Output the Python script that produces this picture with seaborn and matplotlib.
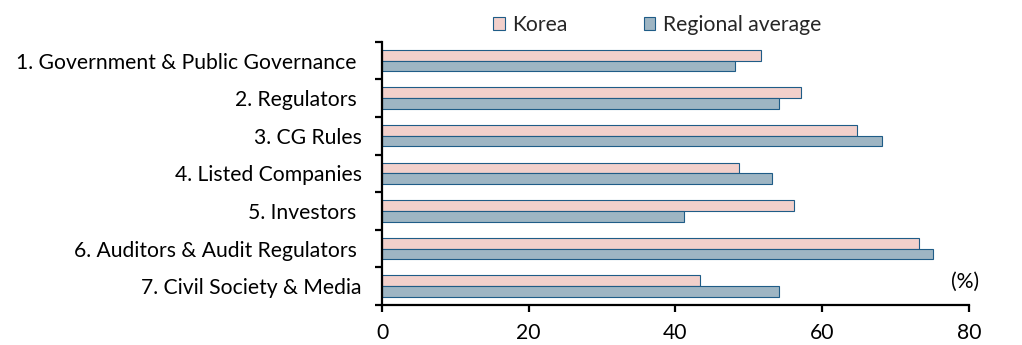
import numpy as np
import pandas as pd
import matplotlib
matplotlib.use("Agg")
import matplotlib.pyplot as plt
import seaborn as sns

categories = [
    "1. Government & Public Governance ",
    "2. Regulators ",
    "3. CG Rules",
    "4. Listed Companies",
    "5. Investors ",
    "6. Auditors & Audit Regulators ",
    "7. Civil Society & Media",
]
series_names = ["Korea", "Regional average"]
korea = [51.6, 57.1, 64.7, 48.6, 56.1, 73.2, 43.4]
regional = [48.1, 54.1, 68.1, 53.1, 41.1, 75.1, 54.1]
x_ticks = [0, 20, 40, 60, 80]

sns.set_theme(style="white")
plt.rcParams["font.family"] = ["Lato", "DejaVu Sans"]

df = pd.DataFrame({
    "category": categories * 2,
    "value": korea + regional,
    "series": [series_names[0]] * len(categories) + [series_names[1]] * len(categories),
})

palette = {"Korea": "#F8CBC5", "Regional average": "#98B7C9"}
edge = "#1F5C87"
fs = 15.2

fig = plt.figure(figsize=(10.22, 3.45), dpi=100)
ax = fig.add_axes([0.3738, 0.116, 0.948 - 0.3738, 0.879 - 0.116])

sns.barplot(data=df, y="category", x="value", hue="series", orient="h",
            palette=palette, order=categories, hue_order=series_names,
            width=0.57, edgecolor=edge, linewidth=0.8, ax=ax)

ax.set_xlim(0, 80)
ax.set_ylim(len(categories) - 0.5, -0.5)
ax.set_xticks(x_ticks)
ax.set_xlabel("")
ax.set_ylabel("")

for side in ["top", "right"]:
    ax.spines[side].set_visible(False)
for side in ["left", "bottom"]:
    ax.spines[side].set_visible(True)
    ax.spines[side].set_color("black")
    ax.spines[side].set_linewidth(1.6)

# category boundaries carry the tick marks, labels sit in between
ax.set_yticks(np.arange(-0.5, len(categories), 1.0), minor=True)
ax.tick_params(axis="y", which="major", length=0, pad=14.5, labelsize=fs, colors="black")
ax.tick_params(axis="y", which="minor", left=True, length=5, width=1.6, color="black")
ax.tick_params(axis="x", which="major", bottom=True, length=5, width=1.6,
               pad=8, labelsize=fs, colors="black", direction="out")
ax.grid(False)

handles, labels = ax.get_legend_handles_labels()
ax.get_legend().remove()
fig.legend(handles, labels, loc="center", bbox_to_anchor=(0.643, 0.928), ncol=2,
           frameon=False, fontsize=fs, handlelength=0.53, handleheight=0.53,
           handletextpad=0.34, columnspacing=3.65)

ax.text(0.993, 0.087, "(%)", transform=ax.transAxes, ha="center", va="center",
        fontsize=fs, color="black")

fig.savefig("out.png", dpi=100)
